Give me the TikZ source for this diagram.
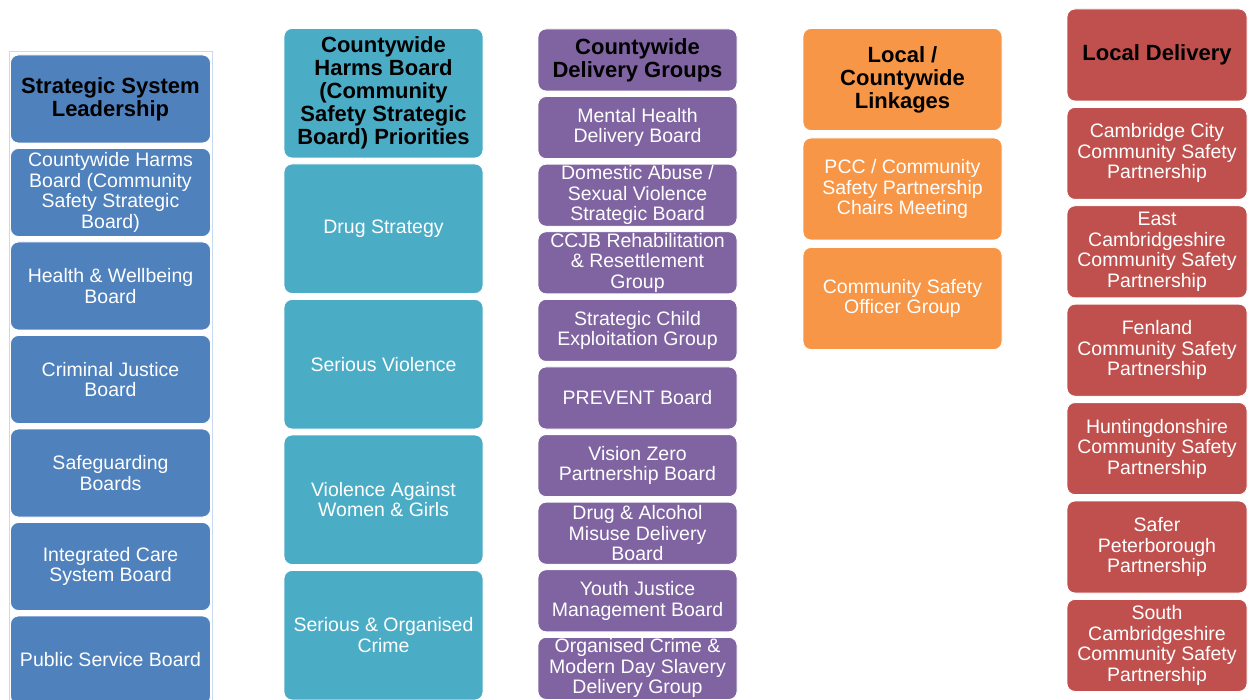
\documentclass[tikz,border=0pt]{standalone}
\usepackage{fontspec}
\setmainfont{Liberation Sans}
\usetikzlibrary{positioning, chains}

\definecolor{leadblue}{HTML}{4F81BD}
\definecolor{prioteal}{HTML}{4BACC6}
\definecolor{grouppurple}{HTML}{8064A2}
\definecolor{linkorange}{HTML}{F79646}
\definecolor{localred}{HTML}{C0504D}
\definecolor{selframe}{HTML}{C9D9F0}

\tikzset{
  panel/.style={draw=white, line width=0.8pt, rounded corners=8pt, inner sep=0pt, outer sep=0pt, align=center},
  hdr/.style={panel, text=black, font=\fontsize{22}{23}\selectfont\bfseries},
  item/.style={panel, text=white, font=\fontsize{19.5}{20.5}\selectfont}
}

\begin{document}
\begin{tikzpicture}[x=1pt, y=-1pt]
	\useasboundingbox (0,0) rectangle (1250,700);
	% selection frame round the first column
	\draw[selframe, line width=0.8pt] (9,51) rectangle (212,712);

	% strategic system leadership
	\begin{scope}[start chain=lead going below, node distance=5.5pt,
	  every node/.append style={fill=leadblue, minimum width=200pt, minimum height=88pt}]
	\node[hdr, on chain=lead] (lead0) at (110.5,99) {Strategic System\\Leadership};
	\node[item, on chain=lead] (lead1) {Countywide Harms\\Board (Community\\Safety Strategic\\Board)};
	\node[item, on chain=lead] (lead2) {Health \& Wellbeing\\Board};
	\node[item, on chain=lead] (lead3) {Criminal Justice\\Board};
	\node[item, on chain=lead] (lead4) {Safeguarding\\Boards};
	\node[item, on chain=lead] (lead5) {Integrated Care\\System Board};
	\node[item, on chain=lead] (lead6) {Public Service Board};
	\end{scope}

	% priorities
	\begin{scope}[start chain=prio going below, node distance=6pt,
	  every node/.append style={fill=prioteal, minimum width=199pt, minimum height=129.5pt}]
	\node[hdr, on chain=prio] (prio0) at (383.5,93.25) {Countywide\\Harms Board\\(Community\\Safety Strategic\\Board) Priorities};
	\node[item, on chain=prio] (prio1) {Drug Strategy};
	\node[item, on chain=prio] (prio2) {Serious Violence};
	\node[item, on chain=prio] (prio3) {Violence Against\\Women \& Girls};
	\node[item, on chain=prio] (prio4) {Serious \& Organised\\Crime};
	\end{scope}

	% delivery groups
	\begin{scope}[start chain=grp going below, node distance=5.6pt,
	  every node/.append style={fill=grouppurple, minimum width=199pt, minimum height=62pt}]
	\node[hdr, on chain=grp] (grp0) at (637.5,60) {Countywide\\Delivery Groups};
	\node[item, on chain=grp] (grp1) {Mental Health\\Delivery Board};
	\node[item, on chain=grp] (grp2) {Domestic Abuse /\\Sexual Violence\\Strategic Board};
	\node[item, on chain=grp] (grp3) {CCJB Rehabilitation\\\& Resettlement\\Group};
	\node[item, on chain=grp] (grp4) {Strategic Child\\Exploitation Group};
	\node[item, on chain=grp] (grp5) {PREVENT Board};
	\node[item, on chain=grp] (grp6) {Vision Zero\\Partnership Board};
	\node[item, on chain=grp] (grp7) {Drug \& Alcohol\\Misuse Delivery\\Board};
	\node[item, on chain=grp] (grp8) {Youth Justice\\Management Board};
	\node[item, on chain=grp] (grp9) {Organised Crime \&\\Modern Day Slavery\\Delivery Group};
	\end{scope}

	% linkages
	\begin{scope}[start chain=link going below, node distance=7.5pt,
	  every node/.append style={fill=linkorange, minimum width=199pt, minimum height=102pt}]
	\node[hdr, on chain=link] (link0) at (902.5,79.5) {Local /\\Countywide\\Linkages};
	\node[item, on chain=link] (link1) {PCC / Community\\Safety Partnership\\Chairs Meeting};
	\node[item, on chain=link] (link2) {Community Safety\\Officer Group};
	\end{scope}

	% local delivery
	\begin{scope}[start chain=loc going below, node distance=6.4pt,
	  every node/.append style={fill=localred, minimum width=180pt, minimum height=92pt}]
	\node[hdr, on chain=loc] (loc0) at (1157,55) {Local Delivery};
	\node[item, on chain=loc] (loc1) {Cambridge City\\Community Safety\\Partnership};
	\node[item, on chain=loc] (loc2) {East\\Cambridgeshire\\Community Safety\\Partnership};
	\node[item, on chain=loc] (loc3) {Fenland\\Community Safety\\Partnership};
	\node[item, on chain=loc] (loc4) {Huntingdonshire\\Community Safety\\Partnership};
	\node[item, on chain=loc] (loc5) {Safer\\Peterborough\\Partnership};
	\node[item, on chain=loc] (loc6) {South\\Cambridgeshire\\Community Safety\\Partnership};
	\end{scope}
\end{tikzpicture}
\end{document}
